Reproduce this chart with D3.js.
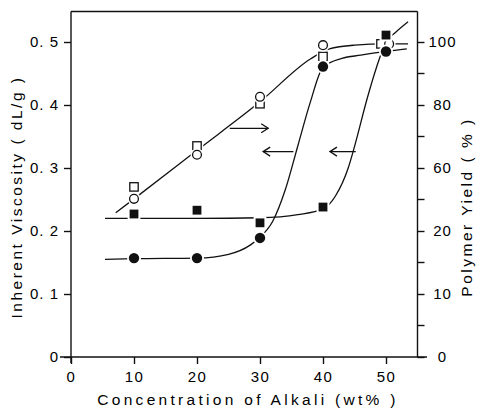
<!DOCTYPE html>
<html><head><meta charset="utf-8">
<script src="https://cdn.jsdelivr.net/npm/d3@7"></script>
<style>
body{margin:0;background:#fff;}
svg text{font-family:"Liberation Sans",Arial,sans-serif;fill:#000;}
</style></head>
<body><svg id="c" width="479" height="408"></svg>
<script>
// ---- data ----
const xTicks = [0,10,20,30,40,50];
const leftTicks = [0,0.1,0.2,0.3,0.4,0.5];
const leftTickLabels = ["0","0. 1","0. 2","0. 3","0. 4","0. 5"];
const rightTickLabels = ["0","10","20","60","80","100"];
const rightMinor = [0.05,0.15,0.25,0.35,0.45];

// Polymer yield (right axis, plotted in left-axis units)
const openCircleX = [10,20,30,40,50.5];
const openCircleV = [0.251,0.321,0.413,0.495,0.497];
const openSquareX = [10,20,30,40,49.2];
const openSquareV = [0.270,0.335,0.402,0.477,0.497];
// Inherent viscosity
const filledCircleX = [10,20,30,40,50];
const filledCircleV = [0.157,0.157,0.189,0.461,0.485];
const filledSquareX = [10,20,30,40,50];
const filledSquareV = [0.227,0.233,0.213,0.238,0.511];

// fitted curves
const yieldCurveX = [7.1,10,20,30,38,41,45,50,53.5];
const yieldCurveV = [0.229,0.251,0.328,0.405,0.473,0.489,0.495,0.497,0.497];
const circleCurveX = [5.4,10,20,25,28.5,30,32,34,36,38,40,43,46,50,53.3];
const circleCurveV = [0.155,0.156,0.157,0.163,0.178,0.19,0.215,0.265,0.335,0.405,0.46,0.474,0.479,0.485,0.489];
const squareCurveX = [5.4,20,30,36,40,42,44,45,47,48.5,50,51.5,53.5];
const squareCurveV = [0.22,0.22,0.221,0.226,0.235,0.256,0.3,0.334,0.41,0.46,0.5,0.515,0.532];

// arrows: [x start, x end, value]
const arrowFromX = [25.2,35.3,45.2];
const arrowToX   = [31.3,30.5,41.1];
const arrowV     = [0.363,0.326,0.326];

// ---- drawing ----
const svg = d3.select("#c");
const x = d3.scaleLinear().domain([0,55]).range([71,417.5]);
const y = d3.scaleLinear().domain([0,0.55]).range([357,10.5]);
const ink = "#111";

// frame
svg.append("line").attr("x1",x(0)).attr("x2",x(55)).attr("y1",y(0.5485)).attr("y2",y(0.5485)).attr("stroke",ink).attr("stroke-width",1.4);
svg.append("line").attr("x1",x(55)).attr("x2",x(55)).attr("y1",y(0.5485)).attr("y2",y(0)).attr("stroke",ink).attr("stroke-width",1.4);

// x axis
const gx = svg.append("g").attr("transform",`translate(0,${y(0)})`)
  .call(d3.axisBottom(x).tickValues(xTicks).tickSize(7).tickPadding(7).tickFormat(d3.format("d")));
gx.select(".domain").remove();
gx.append("line").attr("x1",60).attr("x2",427).attr("stroke",ink).attr("stroke-width",1.4);
gx.selectAll(".tick line").attr("stroke",ink).attr("stroke-width",1.4);
gx.selectAll(".tick text").attr("font-size",15).attr("letter-spacing","1.5px").attr("font-family","Liberation Sans, Arial, sans-serif").attr("fill",ink);

// left axis
const gy = svg.append("g").attr("transform",`translate(${x(0)},0)`)
  .call(d3.axisLeft(y).tickValues(leftTicks).tickSize(7).tickPadding(5).tickFormat((d,i)=>leftTickLabels[i]));
gy.select(".domain").remove();
gy.append("line").attr("y1",y(0.5485)).attr("y2",y(0)+6).attr("stroke",ink).attr("stroke-width",1.4);
gy.selectAll(".tick line").attr("stroke",ink).attr("stroke-width",1.4);
gy.selectAll(".tick text").attr("font-size",15).attr("letter-spacing","1px").attr("font-family","Liberation Sans, Arial, sans-serif").attr("fill",ink);

// right axis
const gr = svg.append("g").attr("transform",`translate(${x(55)},0)`)
  .call(d3.axisRight(y).tickValues(leftTicks).tickSize(7).tickPadding(0).tickFormat((d,i)=>rightTickLabels[i]));
gr.select(".domain").remove();
gr.selectAll(".tick line").attr("stroke",ink).attr("stroke-width",1.4);
gr.selectAll(".tick text").attr("font-size",15).attr("letter-spacing","1px").attr("text-anchor","middle").attr("x",25).attr("font-family","Liberation Sans, Arial, sans-serif").attr("fill",ink);
gr.selectAll(".minor").data(rightMinor).enter().append("line").attr("class","minor")
  .attr("x1",0).attr("x2",7).attr("y1",d=>y(d)).attr("y2",d=>y(d)).attr("stroke",ink).attr("stroke-width",1.4);

// titles
svg.append("text").attr("x",248).attr("y",405).attr("text-anchor","middle").attr("font-size",15.5).attr("letter-spacing","3.3px")
  .text("Concentration of Alkali (wt% )");
svg.append("text").attr("transform","translate(22,197) rotate(-90)").attr("text-anchor","middle").attr("font-size",15.5).attr("letter-spacing","2.5px")
  .text("Inherent Viscosity ( dL/g )");
svg.append("text").attr("transform","translate(472,207) rotate(-90)").attr("text-anchor","middle").attr("font-size",15.5).attr("letter-spacing","2.5px")
  .text("Polymer Yield ( % )");

// curves
const line = d3.line().x(d=>x(d[0])).y(d=>y(d[1])).curve(d3.curveMonotoneX);
function curve(xs,vs){
  svg.append("path").attr("d",line(xs.map((v,i)=>[v,vs[i]]))).attr("fill","none").attr("stroke",ink).attr("stroke-width",1.3);
}
curve(yieldCurveX,yieldCurveV);
curve(circleCurveX,circleCurveV);
curve(squareCurveX,squareCurveV);

// arrows
arrowV.forEach((v,i)=>{
  const x0=x(arrowFromX[i]), x1=x(arrowToX[i]), yy=y(v), dir = x1>x0?1:-1;
  svg.append("line").attr("x1",x0).attr("x2",x1).attr("y1",yy).attr("y2",yy).attr("stroke",ink).attr("stroke-width",1.3);
  svg.append("path").attr("d",`M${x1-dir*7},${yy-4.5}L${x1},${yy}L${x1-dir*7},${yy+4.5}`).attr("fill","none").attr("stroke",ink).attr("stroke-width",1.3);
});

// markers
function circles(xs,vs,filled){
  const g=svg.append("g");
  xs.forEach((xv,i)=>{
    const cx=x(xv), cy=y(vs[i]);
    g.append("circle").attr("cx",cx).attr("cy",cy).attr("r",filled?7:6.5).attr("fill","#fff");
    g.append("circle").attr("cx",cx).attr("cy",cy).attr("r",filled?5.2:4.4)
      .attr("fill",filled?ink:"#fff").attr("stroke",ink).attr("stroke-width",filled?0:1.3);
  });
}
function squares(xs,vs,filled){
  const g=svg.append("g");
  xs.forEach((xv,i)=>{
    const cx=x(xv), cy=y(vs[i]), h=filled?4.4:4.2;
    g.append("rect").attr("x",cx-h-2).attr("y",cy-h-2).attr("width",2*h+4).attr("height",2*h+4).attr("fill","#fff");
    g.append("rect").attr("x",cx-h).attr("y",cy-h).attr("width",2*h).attr("height",2*h)
      .attr("fill",filled?ink:"#fff").attr("stroke",ink).attr("stroke-width",filled?0:1.3);
  });
}
squares(openSquareX,openSquareV,false);
circles(openCircleX,openCircleV,false);
circles(filledCircleX,filledCircleV,true);
squares(filledSquareX,filledSquareV,true);
</script></body></html>
